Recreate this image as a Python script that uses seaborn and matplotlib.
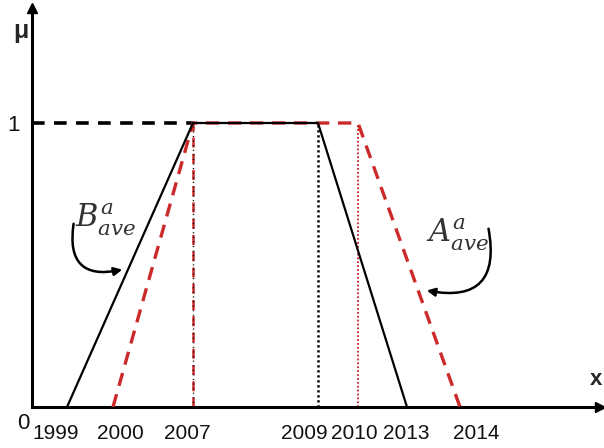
import numpy as np
import matplotlib
matplotlib.use("Agg")
import matplotlib.pyplot as plt
import matplotlib.transforms as mtransforms
import seaborn as sns
import pandas as pd

sns.set_theme(style="white")
plt.rcParams["font.family"] = ["Liberation Sans Narrow", "Liberation Sans", "DejaVu Sans"]
plt.rcParams["mathtext.fontset"] = "dejavuserif"

# Trapezoidal fuzzy numbers (years on x, membership on y)
b_years = [1999, 2007, 2009, 2013]
b_mu = [0, 1, 1, 0]
a_years = [2000, 2007, 2010, 2014]
a_mu = [0, 1, 1, 0]
tick_years = [1999, 2000, 2007, 2009, 2010, 2013, 2014]
tick_labels = ["1999", "2000", "2007", "2009", "2010", "2013", "2014"]

RED = "#cc2a2a"

# Schematic (non-uniform) year axis
anchor_years = [1998, 1999, 2000, 2007, 2009, 2010, 2013, 2014, 2016]
anchor_pos = [0, 35, 81, 161, 286, 326, 375, 428, 568]


def fwd(v):
    return np.interp(v, anchor_years, anchor_pos)


def inv(v):
    return np.interp(v, anchor_pos, anchor_years)


W, H = 604, 448
fig = plt.figure(figsize=(W / 100, H / 100), dpi=100)
L, R, T, B = 32, 600, 8, 407
ax = fig.add_axes([L / W, 1 - B / H, (R - L) / W, (B - T) / H])
ax.set_xscale("function", functions=(fwd, inv))
ax.set_xlim(1998, 2016)
ax.set_ylim(0, (B - T) / (B - 123))


def axfrac(x, y):
    return ((x - L) / (R - L), (B - y) / (B - T))


df_b = pd.DataFrame({"year": b_years, "mu": b_mu})
df_a = pd.DataFrame({"year": a_years, "mu": a_mu})

# guide lines
ax.plot([1998, b_years[1]], [1, 1], color="black", lw=2.6, ls=(0, (3.5, 2.6)), clip_on=False, zorder=2)
ax.plot([a_years[1], a_years[1]], [0, 1], color=RED, lw=1.8, ls=(0, (4, 2.5)), zorder=2)
ax.plot([a_years[1], a_years[1]], [0, 1], color="black", lw=1.0, ls=(0, (0.8, 2.5)), zorder=2)
ax.plot([b_years[2], b_years[2]], [0, 1], color="black", lw=1.8, ls=(0, (0.9, 1.1)), zorder=2)
ax.plot([a_years[2], a_years[2]], [0, 1], color=RED, lw=1.4, ls=(0, (0.9, 1.1)), zorder=2)

sns.lineplot(data=df_a, x="year", y="mu", ax=ax, color=RED, lw=2.4,
             linestyle=(0, (4, 2.6)), sort=False, zorder=3)
sns.lineplot(data=df_b, x="year", y="mu", ax=ax, color="black", lw=1.6,
             sort=False, zorder=4)

# axes with arrowheads
for s in ["top", "right"]:
    ax.spines[s].set_visible(False)
for s in ["left", "bottom"]:
    ax.spines[s].set_linewidth(2.2)
    ax.spines[s].set_color("black")
ax.plot(1, 0, ">", color="black", ms=7, transform=ax.transAxes, clip_on=False)
ax.plot(0, 1, "^", color="black", ms=7, transform=ax.transAxes, clip_on=False)

ax.set_xticks(tick_years)
ax.set_xticklabels(tick_labels)
ax.set_yticks([1])
ax.set_yticklabels(["1"])
ax.tick_params(axis="both", length=0, labelsize=15, colors="#111111")
ax.tick_params(axis="x", pad=12)
ax.tick_params(axis="y", labelsize=16, pad=9)
ax.set_xlabel("")
ax.set_ylabel("")

label_shift = [-11, 7, -6, -14, -4, -1, 16]
for lab, dx in zip(ax.get_xticklabels(), label_shift):
    lab.set_transform(lab.get_transform() + mtransforms.ScaledTranslation(dx / 100, 0, fig.dpi_scale_trans))

ax.text(*axfrac(23, 423), "0", transform=ax.transAxes, ha="center", va="center", fontsize=16,
        color="#111111", clip_on=False)
ax.text(*axfrac(21, 31), "μ", transform=ax.transAxes, ha="center", va="center", fontsize=18,
        fontweight="bold", clip_on=False)
ax.text(*axfrac(596, 379), "x", transform=ax.transAxes, ha="center", va="center", fontsize=16,
        fontweight="bold", clip_on=False)

# set labels with curved pointers
ax.text(*axfrac(106, 220), r"$B^{a}_{ave}$", transform=ax.transAxes, ha="center", va="center",
        fontsize=22, color="#333333")
ax.annotate("", xy=axfrac(125, 269), xycoords="axes fraction",
            xytext=axfrac(74, 221), textcoords="axes fraction",
            arrowprops=dict(arrowstyle="-|>", color="black", lw=1.8,
                            connectionstyle="arc3,rad=0.75", mutation_scale=12))
ax.text(*axfrac(457, 235), r"$A^{a}_{ave}$", transform=ax.transAxes, ha="center", va="center",
        fontsize=22, color="#333333")
ax.annotate("", xy=axfrac(424, 290), xycoords="axes fraction",
            xytext=axfrac(488, 226), textcoords="axes fraction",
            arrowprops=dict(arrowstyle="-|>", color="black", lw=1.8,
                            connectionstyle="arc3,rad=-0.75", mutation_scale=12))

fig.savefig("out.png", dpi=100)
